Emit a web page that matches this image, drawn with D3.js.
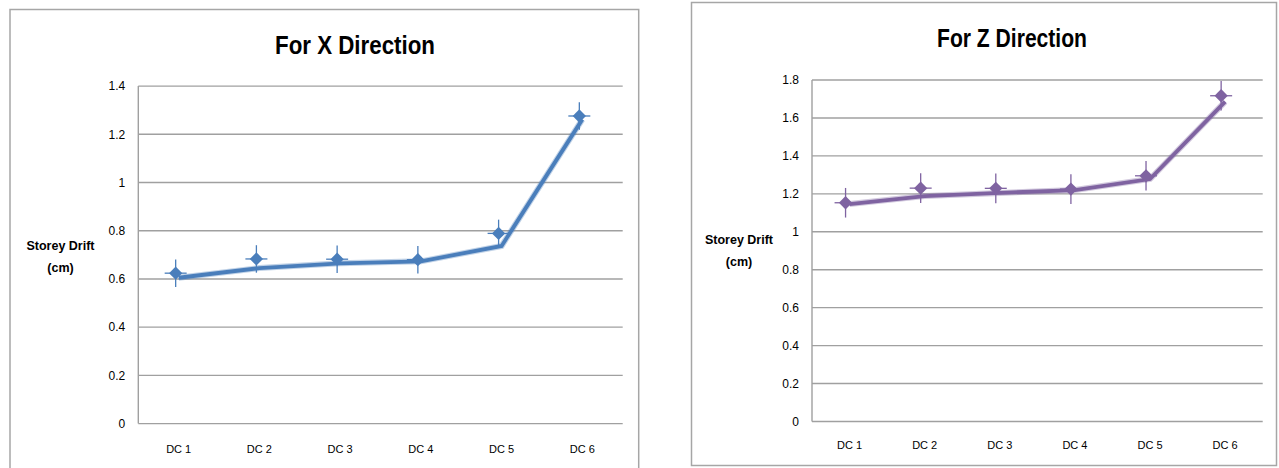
<!DOCTYPE html>
<html>
<head>
<meta charset="utf-8">
<script src="https://cdn.jsdelivr.net/npm/d3@7"></script>
<style>
  html, body { margin: 0; padding: 0; background: #ffffff; }
  svg { display: block; }
  text { font-family: "Liberation Sans", Arial, sans-serif; fill: #000; }
</style>
</head>
<body>
<svg id="chart" width="1279" height="468"></svg>
<script>
// ---- data ----
const categories = ["DC 1", "DC 2", "DC 3", "DC 4", "DC 5", "DC 6"];

const xTitle = "For X Direction";
const xTrend  = [0.605, 0.645, 0.665, 0.673, 0.737, 1.262];
const xPoints = [0.624, 0.683, 0.682, 0.680, 0.789, 1.276];
const xError  = 0.057;
const xTicks  = [0, 0.2, 0.4, 0.6, 0.8, 1, 1.2, 1.4];

const zTitle = "For Z Direction";
const zTrend  = [1.146, 1.188, 1.205, 1.220, 1.278, 1.686];
const zPoints = [1.153, 1.230, 1.229, 1.225, 1.295, 1.717];
const zError  = 0.078;
const zTicks  = [0, 0.2, 0.4, 0.6, 0.8, 1, 1.2, 1.4, 1.6, 1.8];

const yLabelLines = ["Storey Drift", "(cm)"];

// ---- drawing ----
const svg = d3.select("#chart");

function drawPanel(cfg) {
  const g = svg.append("g");

  // outer frame
  g.append("rect")
    .attr("x", cfg.frame[0]).attr("y", cfg.frame[1])
    .attr("width", cfg.frame[2]).attr("height", cfg.frame[3])
    .attr("fill", "#fff").attr("stroke", "#a6a6a6").attr("stroke-width", 1.5);

  const x = d3.scalePoint().domain(categories)
    .range([cfg.left, cfg.right]).padding(0.5);
  const y = d3.scaleLinear().domain([0, d3.max(cfg.ticks)])
    .range([cfg.bottom, cfg.top]);

  // gridlines
  g.append("g").selectAll("line").data(cfg.ticks).join("line")
    .attr("x1", cfg.left).attr("x2", cfg.right)
    .attr("y1", d => y(d)).attr("y2", d => y(d))
    .attr("stroke", "#a0a0a0").attr("stroke-width", 1.4);

  // y axis line
  g.append("line")
    .attr("x1", cfg.left).attr("x2", cfg.left)
    .attr("y1", y(0)).attr("y2", y(d3.max(cfg.ticks)))
    .attr("stroke", "#a0a0a0").attr("stroke-width", 1.4);

  // y tick labels
  g.append("g").selectAll("text").data(cfg.ticks).join("text")
    .attr("x", cfg.left - 13).attr("y", d => y(d))
    .attr("dy", "0.36em").attr("text-anchor", "end")
    .attr("font-size", 12)
    .text(d => d3.format("~g")(d));

  // x category labels
  g.append("g").selectAll("text").data(categories).join("text")
    .attr("x", d => x(d)).attr("y", cfg.catY)
    .attr("dy", "0.36em").attr("text-anchor", "middle")
    .attr("font-size", 11)
    .text(d => d);

  // title
  g.append("text")
    .attr("x", cfg.titleX).attr("y", cfg.titleY)
    .attr("text-anchor", "middle")
    .attr("font-size", 25).attr("font-weight", "bold")
    .attr("textLength", cfg.titleLen).attr("lengthAdjust", "spacingAndGlyphs")
    .text(cfg.title);

  // y axis title
  g.append("g").selectAll("text").data(yLabelLines).join("text")
    .attr("x", cfg.ylabX).attr("y", (d, i) => cfg.ylabY + i * 22)
    .attr("text-anchor", "middle")
    .attr("font-size", 12.5).attr("font-weight", "bold")
    .text(d => d);

  const line = d3.line()
    .x((d, i) => x(categories[i]))
    .y(d => y(d));

  // soft halo + main line
  g.append("path").datum(cfg.trend)
    .attr("d", line).attr("fill", "none")
    .attr("stroke", cfg.color).attr("stroke-opacity", 0.35)
    .attr("stroke-width", 6);
  g.append("path").datum(cfg.trend)
    .attr("d", line).attr("fill", "none")
    .attr("stroke", cfg.color).attr("stroke-width", 3.8);

  // markers with error bars
  const pts = g.append("g").selectAll("g").data(cfg.points).join("g")
    .attr("transform", (d, i) => `translate(${x(categories[i]) + cfg.markShift},${y(d)})`);

  pts.append("line")
    .attr("x1", 0).attr("x2", 0)
    .attr("y1", d => y(d + cfg.err) - y(d))
    .attr("y2", d => y(d - cfg.err) - y(d))
    .attr("stroke", cfg.color).attr("stroke-width", 1.3);
  pts.append("line")
    .attr("x1", -11).attr("x2", 11)
    .attr("y1", 0).attr("y2", 0)
    .attr("stroke", cfg.color).attr("stroke-width", 1.3);
  pts.append("path")
    .attr("d", d3.symbol(d3.symbolSquare, 88)())
    .attr("transform", "rotate(45)")
    .attr("fill", cfg.color);
}

drawPanel({
  title: xTitle, trend: xTrend, points: xPoints, err: xError, ticks: xTicks,
  color: "#4a7ebb",
  frame: [10, 9.5, 628.7, 470],
  left: 138.3, right: 622.7, top: 86.1, bottom: 423.6,
  catY: 449, titleX: 355, titleY: 53.5, titleLen: 160,
  ylabX: 60.5, ylabY: 249.5, markShift: -3
});

drawPanel({
  title: zTitle, trend: zTrend, points: zPoints, err: zError, ticks: zTicks,
  color: "#7f63a1",
  frame: [691.5, 2.5, 585, 463],
  left: 812, right: 1262.7, top: 80, bottom: 421.5,
  catY: 445.5, titleX: 1012, titleY: 47, titleLen: 150,
  ylabX: 739, ylabY: 244, markShift: -4
});
</script>
</body>
</html>
